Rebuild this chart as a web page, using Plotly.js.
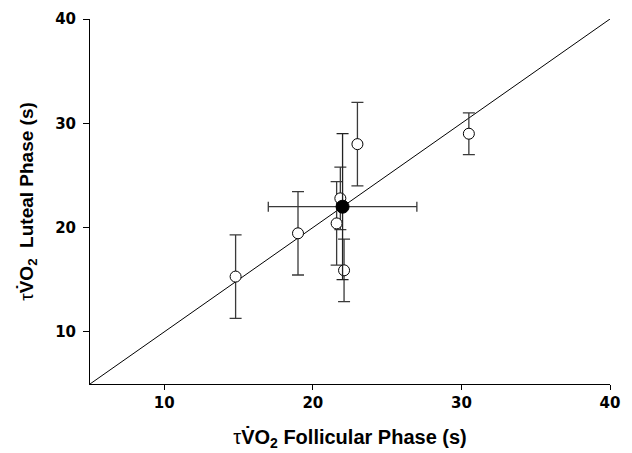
<!DOCTYPE html>
<html>
<head>
<meta charset="utf-8">
<script src="https://cdn.plot.ly/plotly-3.0.1.min.js"></script>
<style>html,body{margin:0;padding:0;background:#fff;}#chart{width:632px;height:453px;}</style>
</head>
<body>
<div id="chart"></div>
<script>
// Individual subjects
const follicular = [14.8, 19.0, 21.6, 21.85, 22.1, 23.0, 30.5];
const luteal     = [15.3, 19.45, 20.4, 22.8, 15.9, 28.0, 29.0];
const lutealErr  = [4, 4, 4, 3, 3, 4, 2];
// Group mean
const meanFollicular = [22.0];
const meanLuteal = [22.0];
const meanFollicularSD = [5];
const meanLutealSD = [7];
// Line of identity
const identity = [5, 40];
const tickVals = [10, 20, 30, 40];

const traces = [
  {x: identity, y: identity, mode: 'lines', line: {color: '#000', width: 1}, hoverinfo: 'skip', showlegend: false},
  {x: follicular, y: luteal, mode: 'markers', type: 'scatter', showlegend: false,
   marker: {symbol: 'circle', size: 11, color: '#fff', line: {color: '#000', width: 1}},
   error_y: {type: 'data', array: lutealErr, visible: true, color: '#3a3a3a', thickness: 1.3, width: 6}},
  {x: meanFollicular, y: meanLuteal, mode: 'markers', type: 'scatter', showlegend: false,
   marker: {symbol: 'circle', size: 13, color: '#000', line: {color: '#000', width: 1}},
   error_x: {type: 'data', array: meanFollicularSD, visible: true, color: '#3a3a3a', thickness: 1.3, width: 5},
   error_y: {type: 'data', array: meanLutealSD, visible: true, color: '#222', thickness: 1.3, width: 6}}
];

const titleFam = 'Liberation Sans, Arial, sans-serif';
const tickFont = {family: 'DejaVu Sans, sans-serif', size: 15, weight: 'bold', color: '#000'};
const tau = '<span style="font-weight:normal">τ</span>';
const layout = {
  width: 632, height: 453,
  margin: {l: 90, r: 22, t: 19, b: 69},
  paper_bgcolor: '#fff', plot_bgcolor: '#fff',
  font: {family: titleFam, color: '#000'},
  xaxis: {
    range: [5, 40], tickvals: tickVals, ticktext: tickVals.map(String),
    showgrid: false, zeroline: false, showline: true, linecolor: '#000', linewidth: 1,
    ticks: 'outside', ticklen: 5, tickcolor: '#000', tickwidth: 1,
    tickfont: tickFont,
    title: {text: tau + 'V̇O<sub>2</sub> Follicular Phase (s)', standoff: 18,
      font: {family: titleFam, size: 20, weight: 'bold', color: '#000'}}
  },
  yaxis: {
    range: [5, 40], tickvals: tickVals, ticktext: tickVals.map(String),
    showgrid: false, zeroline: false, showline: true, linecolor: '#000', linewidth: 1,
    ticks: 'outside', ticklen: 6, tickcolor: '#000', tickwidth: 1,
    ticklabelstandoff: 4,
    tickfont: tickFont,
    title: {text: tau + 'V̇O<sub>2</sub>  Luteal Phase (s)', standoff: 16,
      font: {family: titleFam, size: 19, weight: 'bold', color: '#000'}}
  }
};

Plotly.newPlot('chart', traces, layout, {displayModeBar: false, staticPlot: true});
</script>
</body>
</html>
